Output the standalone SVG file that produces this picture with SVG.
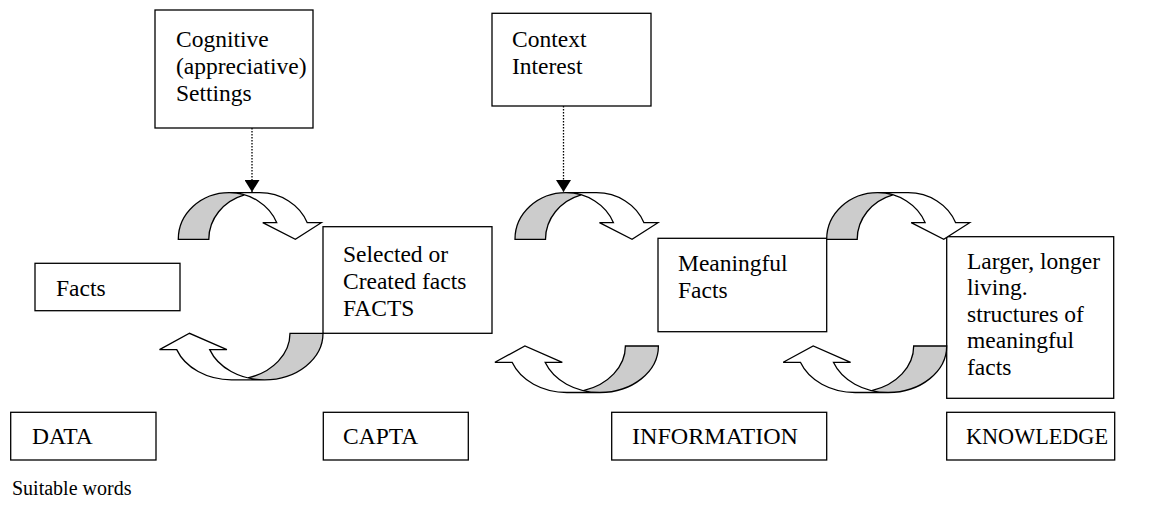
<svg xmlns="http://www.w3.org/2000/svg" xmlns:xlink="http://www.w3.org/1999/xlink" width="1151" height="508" viewBox="0 0 1151 508">
  <style>
    .box { fill: #ffffff; stroke: #000000; stroke-width: 1.3; }
    .lbl { font-family: "Liberation Serif", "Times New Roman", serif; font-size: 23.5px; fill: #000000; }
    .note { font-family: "Liberation Serif", "Times New Roman", serif; font-size: 20px; fill: #000000; }
    .front { fill: #ffffff; stroke: none; }
    .back { fill: #cccccc; stroke: none; }
    .edge { fill: none; stroke: #000000; stroke-width: 1.3; stroke-linejoin: miter; }
    .dots { fill: none; stroke: #000000; stroke-width: 1.3; stroke-dasharray: 1.5 1.5; }
  </style>
  <defs>
    <marker id="tri" viewBox="0 0 12 15" refX="12" refY="7.5" markerWidth="12" markerHeight="15" markerUnits="userSpaceOnUse" orient="auto">
      <path d="M0,0 L12,7.5 L0,15 Z" fill="#000000"/>
    </marker>
    <!-- curved arrow bending over the top and pointing down; origin = bottom-left of its base -->
    <g id="curveDown">
      <path class="front" d="M117.05,0 L84.46,-16.6 L98.46,-16.6 A50.9,46.6 0 0 0 50.9,-46.6 L81.4,-46.6 A50.9,46.6 0 0 1 128.96,-16.6 L142.96,-16.6 Z"/>
      <path class="back" d="M66.15,-44.46 A50.9,46.6 0 0 0 30.5,0 L0,0 A50.9,46.6 0 0 1 66.15,-44.46 Z"/>
      <path class="edge" d="M66.15,-44.46 A50.9,46.6 0 0 0 30.5,0 L0,0 A50.9,46.6 0 0 1 50.9,-46.6 L81.4,-46.6 A50.9,46.6 0 0 1 128.96,-16.6 L142.96,-16.6 L117.05,0 L84.46,-16.6 L98.46,-16.6 A50.9,46.6 0 0 0 50.9,-46.6"/>
    </g>
    <!-- wider variant, used upside down for the returning arrows -->
    <g id="curveBack">
      <path class="front" d="M133.5,0 L96.09,-16.3 L113.29,-16.3 A58.5,46.5 0 0 0 58.5,-46.5 L91.5,-46.5 A58.5,46.5 0 0 1 146.29,-16.3 L163.49,-16.3 Z"/>
      <path class="back" d="M75,-44.61 A58.5,46.5 0 0 0 33,0 L0,0 A58.5,46.5 0 0 1 75,-44.61 Z"/>
      <path class="edge" d="M75,-44.61 A58.5,46.5 0 0 0 33,0 L0,0 A58.5,46.5 0 0 1 58.5,-46.5 L91.5,-46.5 A58.5,46.5 0 0 1 146.29,-16.3 L163.49,-16.3 L133.5,0 L96.09,-16.3 L113.29,-16.3 A58.5,46.5 0 0 0 58.5,-46.5"/>
    </g>
  </defs>

  <rect width="1151" height="508" fill="#ffffff"/>

  <g id="cognitive-settings">
    <rect class="box" x="155" y="10" width="158" height="118"/>
    <text class="lbl" x="176" y="47">Cognitive</text>
    <text class="lbl" x="176" y="74">(appreciative)</text>
    <text class="lbl" x="176" y="101">Settings</text>
  </g>
  <g id="context-interest">
    <rect class="box" x="492" y="13.3" width="159" height="92.7"/>
    <text class="lbl" x="512" y="46.7">Context</text>
    <text class="lbl" x="512" y="73.7">Interest</text>
  </g>
  <g id="facts">
    <rect class="box" x="35" y="263.3" width="145" height="47.4"/>
    <text class="lbl" x="56" y="296">Facts</text>
  </g>
  <g id="selected-facts">
    <rect class="box" x="323" y="226.7" width="169" height="106.6"/>
    <text class="lbl" x="343" y="262">Selected or</text>
    <text class="lbl" x="343" y="289">Created facts</text>
    <text class="lbl" x="343" y="316">FACTS</text>
  </g>
  <g id="meaningful-facts">
    <rect class="box" x="658" y="238.3" width="168.7" height="93.4"/>
    <text class="lbl" x="678" y="271">Meaningful</text>
    <text class="lbl" x="678" y="298">Facts</text>
  </g>
  <g id="structures">
    <rect class="box" x="946.7" y="236.7" width="167" height="161.6"/>
    <text class="lbl" x="967" y="268.5">Larger, longer</text>
    <text class="lbl" x="967" y="295">living.</text>
    <text class="lbl" x="967" y="321.5">structures of</text>
    <text class="lbl" x="967" y="348">meaningful</text>
    <text class="lbl" x="967" y="374.5">facts</text>
  </g>
  <g id="data">
    <rect class="box" x="10.7" y="412.3" width="145.3" height="47.7"/>
    <text class="lbl" x="32" y="444.3">DATA</text>
  </g>
  <g id="capta">
    <rect class="box" x="323.3" y="412.3" width="145" height="47.7"/>
    <text class="lbl" x="343" y="444.3">CAPTA</text>
  </g>
  <g id="information">
    <rect class="box" x="611.7" y="412.3" width="215" height="47.7"/>
    <text class="lbl" x="632" y="444.3" textLength="166" lengthAdjust="spacingAndGlyphs">INFORMATION</text>
  </g>
  <g id="knowledge">
    <rect class="box" x="946.7" y="412.3" width="168" height="47.7"/>
    <text class="lbl" x="966" y="444.3" textLength="142" lengthAdjust="spacingAndGlyphs">KNOWLEDGE</text>
  </g>
  <g id="caption">
    <text class="note" x="12" y="495">Suitable words</text>
  </g>

  <g id="connectors">
    <line class="dots" x1="252" y1="128" x2="252" y2="192" marker-end="url(#tri)"/>
    <line class="dots" x1="563.5" y1="106" x2="563.5" y2="192" marker-end="url(#tri)"/>
    <use xlink:href="#curveDown" transform="translate(178.3,239.3)"/>
    <use xlink:href="#curveDown" transform="translate(515,239.3)"/>
    <use xlink:href="#curveDown" transform="translate(826.7,239.3)"/>
    <use xlink:href="#curveBack" transform="translate(323,333.3) rotate(180)"/>
    <use xlink:href="#curveBack" transform="translate(658.4,346) rotate(180)"/>
    <use xlink:href="#curveBack" transform="translate(946.7,346) rotate(180)"/>
  </g>
</svg>
